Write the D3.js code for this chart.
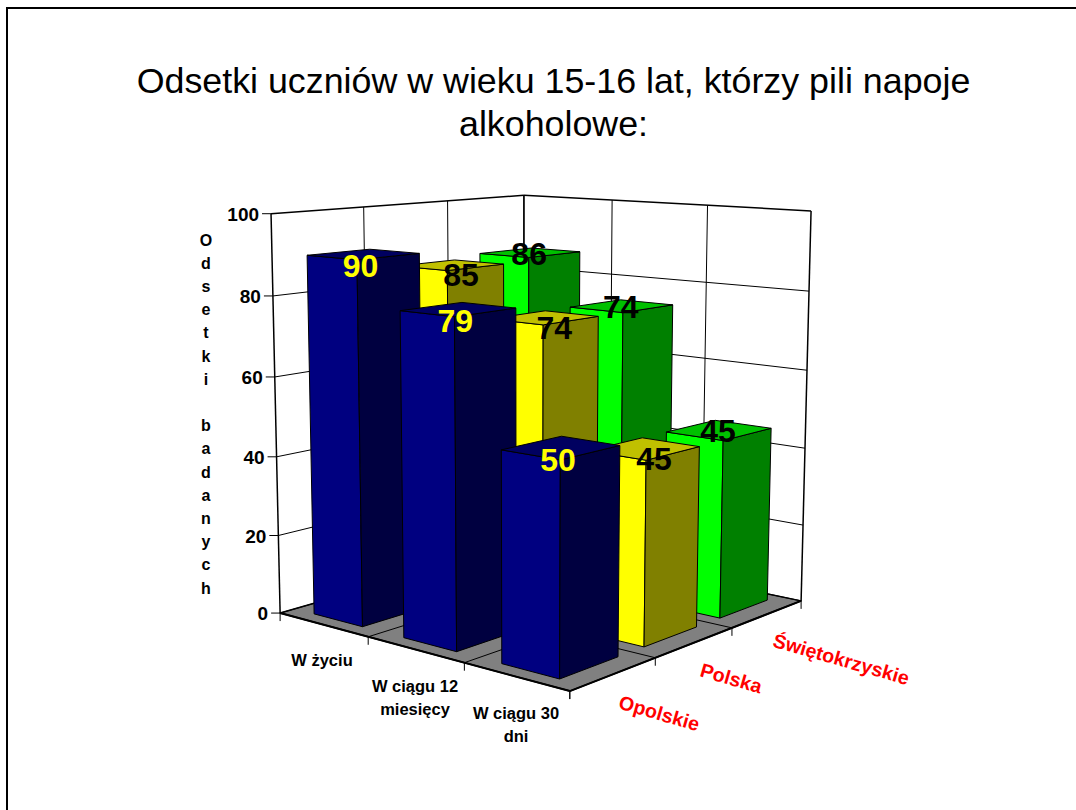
<!DOCTYPE html>
<html><head><meta charset="utf-8">
<style>html,body{margin:0;padding:0;background:#fff}svg{display:block}text{font-family:"Liberation Sans",Arial,sans-serif}</style>
<script src="https://cdn.jsdelivr.net/npm/d3@7"></script></head><body>
<div id="chart"></div>
<script>
const titleLines = ["Odsetki uczniów w wieku 15-16 lat, którzy pili napoje","alkoholowe:"];
const categories = [["W życiu"],["W ciągu 12","miesięcy"],["W ciągu 30","dni"]];
const seriesNames = ["Opolskie","Polska","Świętokrzyskie"];
const opolskie = [90,79,50];
const polska = [85,74,45];
const swietokrzyskie = [86,74,45];
const yTicks = [0,20,40,60,80,100];
const yTitle = "Odsetki badanych";
const faceColors = ["#000080","#ffff00","#00ff00"];
const sideColors = ["#000040","#808000","#008000"];
const topColors = ["#000060","#c0c000","#00c000"];
const labelColors = ["#ffff00","#000","#000"];
const labelShiftX = [-3,10,-1];
const labelShiftY = [23,21,12];
const seriesValues = [opolskie,polska,swietokrzyskie];

const W=1076,H=810;
const svg=d3.select("#chart").append("svg").attr("width",W).attr("height",H);

// Perspective camera fitted to the plot box corners: [u,v,h] -> [x,y]
const anchors=[
 [0,0,0,280,612],[1,0,0,570,692],[1,1,0,801,600],[0,1,0,524,544],
 [0,0,1,271,214],[1,1,1,811,211],[0,1,1,524,195]];
function fit(){
  const A=[],b=[];
  anchors.forEach(([u,v,h,x,y])=>{
    A.push([u,v,h,1,0,0,0,0,-x*u,-x*v,-x*h]);b.push(x);
    A.push([0,0,0,0,u,v,h,1,-y*u,-y*v,-y*h]);b.push(y);
  });
  const n=11,M=d3.range(n).map(i=>d3.range(n+1).map(j=>{
    let s=0;A.forEach((r,k)=>{s+=r[i]*(j<n?r[j]:b[k]);});return s;}));
  for(let c=0;c<n;c++){
    let p=c;for(let r=c+1;r<n;r++)if(Math.abs(M[r][c])>Math.abs(M[p][c]))p=r;
    [M[c],M[p]]=[M[p],M[c]];
    for(let r=0;r<n;r++){if(r===c)continue;const f=M[r][c]/M[c][c];for(let j=c;j<=n;j++)M[r][j]-=f*M[c][j];}
  }
  return M.map((r,i)=>r[n]/r[i]);
}
const m=fit();
function P(u,v,h){const d=m[8]*u+m[9]*v+m[10]*h+1;
  return [(m[0]*u+m[1]*v+m[2]*h+m[3])/d,(m[4]*u+m[5]*v+m[6]*h+m[7])/d];}

const uScale=d3.scaleBand().domain(d3.range(categories.length)).range([0,1]).paddingInner(.45).paddingOuter(.225);
const vScale=d3.scaleBand().domain(d3.range(seriesNames.length)).range([0,1]).paddingInner(.32).paddingOuter(.16);
const hScale=d3.scaleLinear().domain([0,100]).range([0,1]);
const uTick=d3.scaleLinear().domain([0,categories.length]).range([0,1]);
const vTick=d3.scaleLinear().domain([0,seriesNames.length]).range([0,1]);
const line=d3.line();
function poly(g,pts,fill,sw){return g.append("path").attr("d",line(pts)+"Z").attr("fill",fill).attr("stroke","#000").attr("stroke-width",sw||1).attr("stroke-linejoin","round");}
function seg(g,a,b,sw){g.append("line").attr("x1",a[0]).attr("y1",a[1]).attr("x2",b[0]).attr("y2",b[1]).attr("stroke","#000").attr("stroke-width",sw||1);}

// slide frame
svg.append("path").attr("d",d3.line()([[7,H],[7,8],[W,8]])).attr("fill","none").attr("stroke","#000").attr("stroke-width",2);

// title
svg.append("g").selectAll("text").data(titleLines).join("text")
 .attr("x",553.5).attr("y",(d,i)=>93+i*43).attr("text-anchor","middle").attr("font-size",35.8).attr("fill","#000").text(d=>d);

const plot=svg.append("g");
// floor
poly(plot,[P(0,0,0),P(1,0,0),P(1,1,0),P(0,1,0)],"#808080",1.5);
// walls
yTicks.forEach(t=>{
  const h=hScale(t);
  seg(plot,P(0,0,h),P(0,1,h),t===100?1.5:1);
  seg(plot,P(0,1,h),P(1,1,h),t===100?1.5:1);
});
d3.range(0,seriesNames.length+1).forEach(i=>{const v=vTick(i);seg(plot,P(0,v,0),P(0,v,1),(i===0||i===3)?1.5:1);});
d3.range(0,categories.length+1).forEach(i=>{const u=uTick(i);seg(plot,P(u,1,0),P(u,1,1),i===3?1.5:1);});
// floor grid + edges
d3.range(1,categories.length).forEach(i=>{const u=uTick(i);seg(plot,P(u,0,0),P(u,1,0));});
d3.range(1,seriesNames.length).forEach(i=>{const v=vTick(i);seg(plot,P(0,v,0),P(1,v,0));});
seg(plot,P(0,0,0),P(1,0,0),2);
seg(plot,P(1,0,0),P(1,1,0),2);
// axis ticks
yTicks.forEach(t=>{const p=P(0,0,hScale(t));seg(plot,[p[0]-9,p[1]],p,1);});
d3.range(0,categories.length+1).forEach(i=>{const p=P(uTick(i),0,0);seg(plot,p,[p[0],p[1]+8]);});
d3.range(0,seriesNames.length+1).forEach(i=>{const p=P(1,vTick(i),0);seg(plot,p,[p[0],p[1]+8]);});

// bars back to front
const bars=plot.append("g");
const labels=[];
d3.range(seriesNames.length).reverse().forEach(s=>{
  categories.forEach((c,ci)=>{
    const val=seriesValues[s][ci];
    const u0=uScale(ci),u1=u0+uScale.bandwidth(),v0=vScale(s),v1=v0+vScale.bandwidth(),h=hScale(val);
    poly(bars,[P(u0,v0,0),P(u1,v0,0),P(u1,v0,h),P(u0,v0,h)],faceColors[s]);
    poly(bars,[P(u1,v0,0),P(u1,v1,0),P(u1,v1,h),P(u1,v0,h)],sideColors[s]);
    poly(bars,[P(u0,v0,h),P(u1,v0,h),P(u1,v1,h),P(u0,v1,h)],topColors[s]);
    labels.push({val,s,p:P((u0+u1)/2,(v0+v1)/2,h)});
  });
});
plot.append("g").selectAll("text").data(labels).join("text")
 .attr("x",d=>d.p[0]+labelShiftX[d.s]).attr("y",d=>d.p[1]+labelShiftY[d.s]).attr("text-anchor","middle").attr("font-size",32).attr("font-weight","bold")
 .attr("fill",d=>labelColors[d.s]).text(d=>d.val);

// y tick labels
svg.append("g").selectAll("text").data(yTicks).join("text")
 .attr("x",t=>P(0,0,hScale(t))[0]-12).attr("y",t=>P(0,0,hScale(t))[1]+7).attr("text-anchor","end")
 .attr("font-size",19).attr("font-weight","bold").text(t=>t);
// y title
svg.append("g").selectAll("text").data(Array.from(yTitle)).join("text")
 .attr("x",206).attr("y",(d,i)=>245.5+i*23.2).attr("text-anchor","middle").attr("font-size",16).attr("font-weight","bold").text(d=>d);
// category labels
const catPos=[[322,666],[415,692],[516,719]];
categories.forEach((lines,i)=>{
  lines.forEach((t,j)=>svg.append("text").attr("x",catPos[i][0]).attr("y",catPos[i][1]+j*23).attr("text-anchor","middle").attr("font-size",16.5).attr("font-weight","bold").text(t));
});
// series labels
const serPos=[[659,714],[731,679],[841,660]];
seriesNames.forEach((t,i)=>{
  svg.append("text").attr("transform",`translate(${serPos[i][0]},${serPos[i][1]}) rotate(16)`).attr("text-anchor","middle").attr("dy",6)
   .attr("font-size",19.6).attr("font-weight","bold").attr("fill","#f00").text(t);
});
</script></body></html>
